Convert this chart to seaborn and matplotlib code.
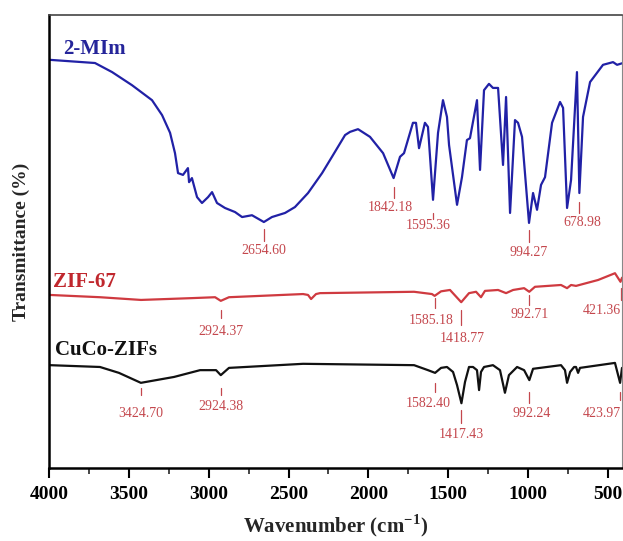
import numpy as np
import pandas as pd
import matplotlib
matplotlib.use("Agg")
import matplotlib.pyplot as plt
from matplotlib.ticker import MultipleLocator
import seaborn as sns

# ---------------- data ----------------
mim_wn = [3994, 3712, 3605, 3480, 3355, 3292, 3242, 3211, 3192, 3161, 3130, 3123, 3105,
          3073, 3042, 3004, 2979, 2948, 2898, 2835, 2791, 2729, 2654.6, 2604, 2522, 2460,
          2378, 2290, 2228, 2146, 2115, 2065, 1990, 1908, 1842.18, 1802, 1777, 1721, 1702,
          1683, 1646, 1627, 1595.36, 1564, 1533, 1508, 1495, 1445, 1414, 1383, 1364, 1320,
          1301, 1276, 1245, 1220, 1188, 1157, 1138, 1113, 1082, 1063, 1038, 994.27, 969,
          944, 919, 894, 850, 800, 781, 756, 731, 694, 678.98, 656, 612, 531, 468, 443, 406]
mim_t = [90.1, 89.4, 87.4, 84.5, 81.2, 77.9, 74.0, 69.5, 65.1, 64.7, 66.2, 63.1, 64.0,
         59.8, 58.5, 59.8, 60.9, 58.5, 57.4, 56.5, 55.4, 55.8, 54.3, 55.4, 56.3, 57.6,
         60.7, 65.1, 68.7, 73.5, 74.2, 74.8, 73.1, 69.5, 64.0, 68.7, 69.5, 76.2, 76.2,
         70.6, 76.2, 75.3, 59.2, 74.0, 81.2, 77.5, 71.3, 58.1, 64.2, 72.4, 72.8, 81.2,
         65.8, 83.4, 84.8, 83.9, 83.9, 66.9, 81.9, 56.3, 76.8, 76.2, 73.1, 54.1, 60.7,
         57.0, 62.5, 64.2, 76.2, 80.8, 79.5, 57.4, 63.6, 87.4, 60.7, 77.5, 85.2, 89.0,
         89.6, 89.0, 89.4]

zif_wn = [3994, 3681, 3424, 3105, 2960, 2924.37, 2873, 2409, 2378, 2359, 2328, 2303,
          1714, 1602, 1585.18, 1545, 1489, 1418.77, 1370, 1326, 1295, 1270, 1188, 1138,
          1094, 1025, 992.71, 957, 794, 756, 731, 700, 562, 456, 421.36, 412]
zif_t = [38.2, 37.7, 37.1, 37.5, 37.7, 36.9, 37.7, 38.4, 38.2, 37.3, 38.4, 38.6,
         38.9, 38.4, 38.0, 39.0, 39.3, 36.6, 38.6, 38.9, 37.7, 39.1, 39.3, 38.6,
         39.3, 39.7, 38.9, 40.0, 40.4, 39.7, 40.4, 40.2, 41.5, 43.0, 41.1, 42.0]

cuco_wn = [3994, 3681, 3562, 3424.7, 3217, 3054, 2954, 2924.38, 2873, 2409, 1714, 1627,
           1582.4, 1545, 1508, 1470, 1445, 1417.43, 1395, 1370, 1345, 1320, 1307, 1295,
           1276, 1220, 1176, 1145, 1120, 1069, 1025, 992.24, 969, 794, 769, 756, 737,
           712, 700, 687, 675, 456, 423.97, 412]
cuco_t = [22.7, 22.3, 21.0, 18.8, 20.1, 21.6, 21.6, 20.5, 22.1, 23.0, 22.7, 21.6,
          21.0, 22.1, 22.3, 21.2, 18.3, 14.3, 19.0, 22.3, 22.3, 21.6, 17.2, 21.2,
          22.3, 22.7, 21.6, 16.6, 20.5, 22.3, 21.6, 19.4, 21.9, 22.7, 21.6, 18.8, 21.2,
          22.3, 22.3, 21.0, 22.1, 23.2, 18.8, 22.1]

series_names = ["2-MIm", "ZIF-67", "CuCo-ZIFs"]

# peak labels
mim_peaks = [2654.60, 1842.18, 1595.36, 994.27, 678.98]
zif_peaks = [2924.37, 1585.18, 1418.77, 992.71, 421.36]
cuco_peaks = [3424.70, 2924.38, 1582.40, 1417.43, 992.24, 423.97]

# ---------------- placement of annotations (layout only) ----------------
# (line top, line bottom, text y, text x)
mim_place = [(52.8, 50.1, 48.1, 2654.6), (62.0, 59.6, 57.4, 1865), (56.3, 55.0, 53.6, 1627),
             (52.5, 49.9, 47.5, 994.27), (58.7, 56.3, 54.1, 662)]
zif_place = [(34.9, 33.1, 30.2, 2924.37), (37.5, 35.3, 32.5, 1605), (34.9, 31.6, 28.5, 1415),
             (38.2, 36.0, 33.8, 992.71), (39.7, 37.1, 34.7, 537)]
cuco_place = [(17.7, 16.1, 12.1, 3424.7), (17.7, 16.1, 13.5, 2924.38), (18.8, 16.8, 14.3, 1625),
              (12.8, 9.9, 7.3, 1417.43), (16.8, 14.3, 12.1, 975), (16.8, 15.0, 12.1, 537)]

# ---------------- styling ----------------
sns.set_theme(style="ticks")
plt.rcParams["font.family"] = ["Liberation Serif", "DejaVu Serif"]
plt.rcParams["mathtext.fontset"] = "custom"
plt.rcParams["mathtext.rm"] = "Liberation Serif"
plt.rcParams["mathtext.bf"] = "Liberation Serif:bold"

BLUE = "#2121a6"
RED = "#cf3a40"
BLACK = "#111111"
ANN = "#c4474d"

fig = plt.figure(figsize=(6.23, 5.41), dpi=100)
ax = fig.add_axes([49 / 623, 1 - 468 / 541, (622 - 49) / 623, (468 - 15) / 541])

frames = [
    pd.DataFrame({"wn": mim_wn, "T": mim_t, "s": series_names[0]}),
    pd.DataFrame({"wn": zif_wn, "T": zif_t, "s": series_names[1]}),
    pd.DataFrame({"wn": cuco_wn, "T": cuco_t, "s": series_names[2]}),
]
colors = [BLUE, RED, BLACK]
for df, c in zip(frames, colors):
    sns.lineplot(data=df, x="wn", y="T", ax=ax, color=c, lw=1.6, estimator=None,
                 sort=False, legend=False)

ax.set_xlim(4000, 412)
ax.set_ylim(0, 100)

# series labels
ax.text(3912, 92.5, series_names[0], color="#25259a", fontsize=15, fontweight="bold",
        va="center", ha="left")
ax.text(3975, 41.1, series_names[1], color="#c0272d", fontsize=15, fontweight="bold",
        va="center", ha="left")
ax.text(3962, 26.0, series_names[2], color=BLACK, fontsize=15, fontweight="bold",
        va="center", ha="left")

# peak annotations
for peaks, places in [(mim_peaks, mim_place), (zif_peaks, zif_place), (cuco_peaks, cuco_place)]:
    for p, (y0, y1, ty, tx) in zip(peaks, places):
        ax.plot([p, p], [y0, y1], color=ANN, lw=0.9)
        ax.text(tx, ty, f"{p:.2f}", color=ANN, fontsize=10, ha="center", va="center")

# axes styling
ax.xaxis.set_major_locator(MultipleLocator(500))
ax.xaxis.set_minor_locator(MultipleLocator(250))
ax.tick_params(axis="x", which="major", direction="out", length=7, width=1.5,
               labelsize=14, pad=6, colors="black")
ax.tick_params(axis="x", which="minor", direction="out", length=4, width=1.2)
ax.set_yticks([])
for lab in ax.get_xticklabels():
    lab.set_fontweight("bold")

ax.spines["left"].set_linewidth(1.8)
ax.spines["bottom"].set_linewidth(1.8)
ax.spines["left"].set_color("black")
ax.spines["bottom"].set_color("black")
ax.spines["top"].set_linewidth(1.2)
ax.spines["top"].set_color("#444444")
ax.spines["right"].set_linewidth(0.8)
ax.spines["right"].set_color("#888888")

ax.set_xlabel("Wavenumber (cm$^{\\mathbf{-1}}$)", fontsize=15, fontweight="bold", labelpad=7)
ax.set_ylabel("Transmittance (%)", fontsize=14, fontweight="bold", labelpad=14)

fig.savefig("out.png", dpi=100)
